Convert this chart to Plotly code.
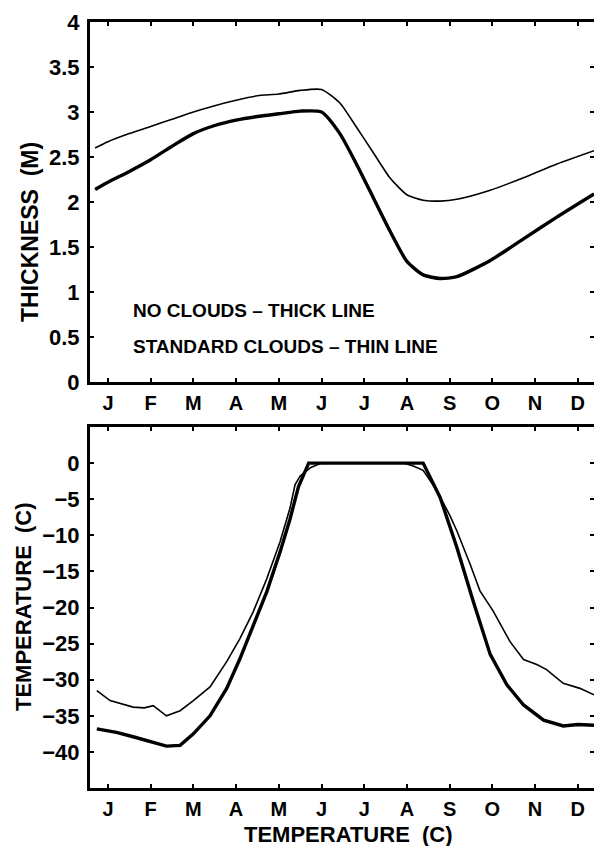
import plotly.graph_objects as go

# ---------------- data ----------------
months = ["J", "F", "M", "A", "M", "J", "J", "A", "S", "O", "N", "D"]
month_pos = list(range(12))  # mid-month positions

# Top panel: ice thickness (m)
thick_x = [-0.30, 0.0, 0.5, 1.0, 1.5, 2.0, 2.5, 3.0, 3.5, 4.0, 4.5, 5.0, 5.43, 5.82,
           6.21, 6.6, 7.0, 7.38, 7.78, 8.17, 8.95, 9.73, 10.5, 11.38]
thick_no_clouds = [2.14, 2.22, 2.34, 2.47, 2.62, 2.76, 2.85, 2.91, 2.95, 2.98, 3.01, 3.0, 2.76, 2.42,
                   2.05, 1.68, 1.34, 1.19, 1.15, 1.17, 1.35, 1.59, 1.83, 2.09]
thin_x = [-0.30, 0.0, 0.5, 1.0, 1.5, 2.0, 2.5, 3.0, 3.5, 4.0, 4.5, 5.0, 5.43, 5.82,
          6.21, 6.6, 7.0, 7.38, 7.78, 8.17, 8.95, 9.73, 10.5, 11.38]
thick_std_clouds = [2.60, 2.67, 2.76, 2.84, 2.92, 3.00, 3.07, 3.13, 3.18, 3.20, 3.24, 3.25, 3.10, 2.83,
                    2.55, 2.27, 2.08, 2.02, 2.01, 2.03, 2.13, 2.27, 2.42, 2.57]

# Bottom panel: surface temperature (C)
tno_x = [-0.26, 0.2, 0.59, 1.0, 1.37, 1.69, 2.0, 2.39, 2.78, 3.09, 3.4, 3.72, 4.03, 4.26,
         4.46, 4.6, 4.7, 5.5, 6.5, 7.38, 7.78, 8.17, 8.55, 8.95, 9.34, 9.73, 10.2, 10.66, 11.0, 11.38]
temp_no_clouds = [-36.8, -37.3, -37.9, -38.6, -39.2, -39.1, -37.5, -35.0, -31.2, -27.1, -22.5, -17.8,
                  -12.3, -7.8, -3.3, -1.2, 0.0, 0.0, 0.0, 0.0, -4.8, -11.7, -19.1, -26.5, -30.7,
                  -33.5, -35.6, -36.4, -36.2, -36.3]
tst_x = [-0.26, 0.05, 0.59, 0.85, 1.06, 1.37, 1.69, 2.0, 2.39, 2.78, 3.09, 3.4, 3.72, 4.03,
         4.26, 4.38, 4.5, 4.75, 5.0, 6.0, 6.92, 7.15, 7.38, 7.70, 8.01, 8.17, 8.48, 8.71, 9.02,
         9.41, 9.73, 10.04, 10.27, 10.66, 11.05, 11.38]
temp_std_clouds = [-31.5, -32.9, -33.8, -33.9, -33.6, -35.0, -34.3, -32.9, -31.0, -27.5, -24.3,
                   -20.6, -16.0, -10.9, -6.3, -3.0, -1.8, -0.6, 0.0, 0.0, 0.0, -0.4, -1.0, -3.8,
                   -7.3, -9.4, -14.0, -17.7, -20.5, -24.7, -27.2, -27.9, -28.6, -30.5, -31.2, -32.1]

top_yticks = [0, 0.5, 1, 1.5, 2, 2.5, 3, 3.5, 4]
top_yticktext = ["0", "0.5", "1", "1.5", "2", "2.5", "3", "3.5", "4"]
bot_yticks = [0, -5, -10, -15, -20, -25, -30, -35, -40]
bot_yticktext = ["0", "\u22125", "\u221210", "\u221215", "\u221220", "\u221225", "\u221230", "\u221235", "\u221240"]

# ---------------- figure ----------------
W, H = 594, 846
FONT = "Liberation Sans, Arial, sans-serif"
fig = go.Figure()

fig.add_trace(go.Scatter(x=thick_x, y=thick_no_clouds, mode="lines", xaxis="x", yaxis="y",
                         line=dict(color="black", width=3.4, shape="spline", smoothing=0.6)))
fig.add_trace(go.Scatter(x=thin_x, y=thick_std_clouds, mode="lines", xaxis="x", yaxis="y",
                         line=dict(color="black", width=1.6, shape="spline", smoothing=0.6)))
fig.add_trace(go.Scatter(x=tno_x, y=temp_no_clouds, mode="lines", xaxis="x2", yaxis="y2",
                         line=dict(color="black", width=3.4)))
fig.add_trace(go.Scatter(x=tst_x, y=temp_std_clouds, mode="lines", xaxis="x2", yaxis="y2",
                         line=dict(color="black", width=1.6)))

left = 90 / W
top_dom = [1 - 382 / H, 1 - 22 / H]
bot_dom = [1 - 788 / H, 1 - 427 / H]
xr = [-0.42, 11.38]

xcommon = dict(range=xr, domain=[left, 1.0], tickmode="array", tickvals=month_pos, ticktext=months,
               showline=True, linecolor="black", linewidth=3, mirror="ticks",
               ticks="inside", ticklen=4, tickwidth=2, tickcolor="black",
               showgrid=False, zeroline=False, automargin=False,
               tickfont=dict(family=FONT, size=20, color="black", weight="bold"), ticklabelstandoff=1)
ycommon = dict(showline=True, linecolor="black", linewidth=3,
               ticks="inside", ticklen=4, tickwidth=2, tickcolor="black",
               showgrid=False, zeroline=False, automargin=False,
               tickfont=dict(family=FONT, size=22, color="black", weight="bold"), ticklabelstandoff=3)

fig.update_layout(
    width=W, height=H,
    margin=dict(l=0, r=0, t=0, b=0),
    paper_bgcolor="white", plot_bgcolor="white",
    showlegend=False,
    xaxis=dict(anchor="y", **xcommon),
    xaxis2=dict(anchor="y2", **xcommon),
    yaxis=dict(anchor="x", domain=top_dom, range=[0, 4], tickmode="array",
               tickvals=top_yticks, ticktext=top_yticktext, **ycommon),
    yaxis2=dict(anchor="x2", domain=bot_dom, range=[-45, 5], tickmode="array",
                tickvals=bot_yticks, ticktext=bot_yticktext, **ycommon),
    yaxis3=dict(overlaying="y", side="right", range=[0, 4], tickmode="array",
                tickvals=top_yticks, showticklabels=False, showline=False,
                ticks="inside", ticklen=4, tickwidth=2, tickcolor="black",
                showgrid=False, zeroline=False, automargin=False),
    yaxis4=dict(overlaying="y2", side="right", range=[-45, 5], tickmode="array",
                tickvals=bot_yticks, showticklabels=False, showline=False,
                ticks="inside", ticklen=4, tickwidth=2, tickcolor="black",
                showgrid=False, zeroline=False, automargin=False),
)
# invisible traces to activate the right-side tick axes
fig.add_trace(go.Scatter(x=[None], y=[None], xaxis="x", yaxis="y3", showlegend=False))
fig.add_trace(go.Scatter(x=[None], y=[None], xaxis="x2", yaxis="y4", showlegend=False))

afont = dict(family=FONT, size=19, color="black", weight="bold")
fig.add_annotation(x=0.54, y=0.80, xref="x", yref="y", text="NO CLOUDS \u2013 THICK LINE",
                   showarrow=False, xanchor="left", yanchor="middle", font=afont)
fig.add_annotation(x=0.54, y=0.39, xref="x", yref="y", text="STANDARD CLOUDS \u2013 THIN LINE",
                   showarrow=False, xanchor="left", yanchor="middle", font=afont)

tfont = dict(family=FONT, size=22, color="black", weight="bold")
fig.add_annotation(x=30 / W, y=1 - 232 / H, xref="paper", yref="paper", text="THICKNESS  (M)",
                   textangle=-90, showarrow=False, xanchor="center", yanchor="middle",
                   font=dict(family=FONT, size=23, color="black", weight="bold"))
fig.add_annotation(x=23 / W, y=1 - 607 / H, xref="paper", yref="paper", text="TEMPERATURE  (C)",
                   textangle=-90, showarrow=False, xanchor="center", yanchor="middle", font=tfont)
fig.add_annotation(x=348 / W, y=1 - 834 / H, xref="paper", yref="paper", text="TEMPERATURE  (C)",
                   showarrow=False, xanchor="center", yanchor="middle", font=tfont)

fig.write_html("out.html")
